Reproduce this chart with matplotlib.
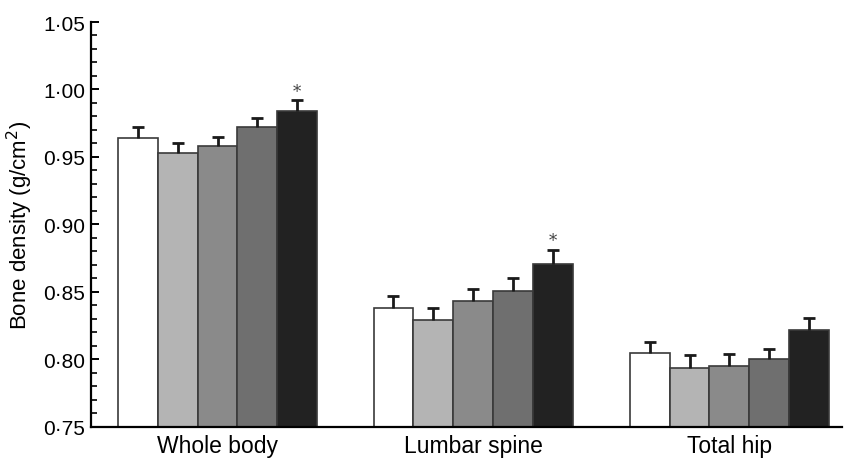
import numpy as np
import matplotlib
matplotlib.use("Agg")
import matplotlib.pyplot as plt
from matplotlib.ticker import MultipleLocator, FuncFormatter

# bone density by site, five groups (white -> black)
sites = ["Whole body", "Lumbar spine", "Total hip"]
whole_body = [0.964, 0.953, 0.958, 0.972, 0.984]
lumbar_spine = [0.838, 0.829, 0.843, 0.851, 0.871]
total_hip = [0.805, 0.794, 0.795, 0.800, 0.822]
whole_body_se = [0.008, 0.007, 0.007, 0.007, 0.008]
lumbar_spine_se = [0.009, 0.009, 0.009, 0.009, 0.010]
total_hip_se = [0.008, 0.009, 0.009, 0.008, 0.009]
signif = [[4], [4], []]  # bars marked with *

bar_colors = ["#ffffff", "#b4b4b4", "#8a8a8a", "#6f6f6f", "#222222"]

means = [whole_body, lumbar_spine, total_hip]
errs = [whole_body_se, lumbar_spine_se, total_hip_se]

plt.rcParams["font.family"] = ["Liberation Sans", "DejaVu Sans"]

fig = plt.figure(figsize=(8.44, 4.60), dpi=100)
ax = fig.add_axes([0.1078, 0.0696, 0.8898, 0.8804])

base = 0.75
group_centers = [0, 6.42, 12.86]
offsets = np.arange(5) - 2

for g in range(3):
    xs = group_centers[g] + offsets
    vals = np.array(means[g])
    ax.bar(xs, vals - base, bottom=base, width=1.0, color=bar_colors,
           edgecolor="#3a3a3a", linewidth=1.2, zorder=2)
    eb = ax.errorbar(xs, vals, yerr=[np.zeros(5), errs[g]], fmt="none",
                     ecolor="#1a1a1a", elinewidth=2, capsize=4, capthick=2, zorder=3)
    eb[1][0].set_visible(False)  # no cap at the bar top
    for k in signif[g]:
        ax.text(xs[k], vals[k] + errs[g][k] + 0.0005, "*", ha="center", va="bottom",
                fontsize=12, family="DejaVu Serif", color="#444444")

ax.set_xlim(-3.18, 15.69)
ax.set_ylim(0.75, 1.05)
ax.set_xticks(group_centers)
ax.set_xticklabels(sites, fontsize=16.5)
ax.tick_params(axis="x", length=0, pad=5)

ax.yaxis.set_major_locator(MultipleLocator(0.05))
ax.yaxis.set_minor_locator(MultipleLocator(0.01))
ax.yaxis.set_major_formatter(FuncFormatter(lambda v, p: ("%.2f" % v).replace(".", "\u00b7")))
ax.tick_params(axis="y", which="major", direction="in", length=6, width=1.4, labelsize=15, pad=4)
ax.tick_params(axis="y", which="minor", direction="in", length=4, width=1.2)

ax.spines["top"].set_visible(False)
ax.spines["right"].set_visible(False)
ax.spines["left"].set_linewidth(1.6)
ax.spines["bottom"].set_linewidth(1.6)

ax.set_ylabel("Bone density (g/cm$^2$)", fontsize=16, labelpad=6)

fig.savefig("out.png", dpi=100)
